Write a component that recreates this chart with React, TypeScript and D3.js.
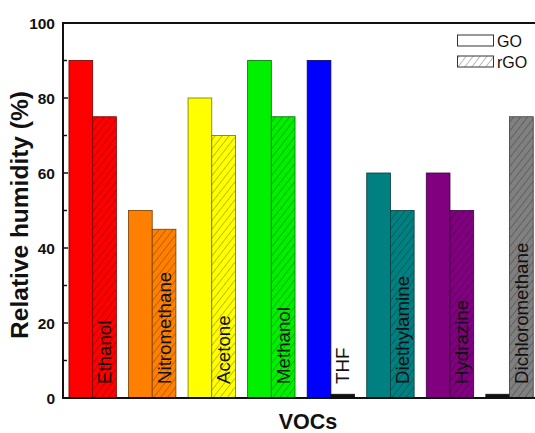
import React from "react";
import * as d3 from "d3";

// Categories (VOCs) and relative humidity values (%) for each sensing film
const vocs = [
  "Ethanol",
  "Nitromethane",
  "Acetone",
  "Methanol",
  "THF",
  "Diethylamine",
  "Hydrazine",
  "Dichloromethane",
];
const goValues = [90, 50, 80, 90, 90, 60, 60, 1];
const rgoValues = [75, 45, 70, 75, 1, 50, 50, 75];
const barColors = [
  "#ff0000",
  "#ff8000",
  "#ffff00",
  "#00f000",
  "#0000ff",
  "#008080",
  "#800080",
  "#808080",
];
const seriesNames = ["GO", "rGO"];
const yTicks = [0, 20, 40, 60, 80, 100];
const yMinorTicks = [10, 30, 50, 70, 90];

const W = 535;
const H = 433;
const left = 63;
const top = 23;
const bottom = 398;
const right = 539.2;
const FONT = "'Liberation Sans', Arial, Helvetica, sans-serif";

export default function App() {
  const x0 = d3
    .scaleBand<string>()
    .domain(vocs)
    .range([left, right])
    .paddingInner(0.204)
    .paddingOuter(0.1);
  const x1 = d3
    .scaleBand<string>()
    .domain(seriesNames)
    .range([0, x0.bandwidth()])
    .padding(0);
  const y = d3.scaleLinear().domain([0, 100]).range([bottom, top]);

  const rows = vocs.map((name, i) => ({
    name,
    color: barColors[i],
    values: [goValues[i], rgoValues[i]],
  }));

  const dark = (c: string, k: number) => d3.color(c)!.darker(k).formatHex();

  return (
    <svg
      width={W}
      height={H}
      style={{ position: "absolute", left: 0, top: 0, background: "#fff" }}
    >
      <defs>
        {rows.map((r, i) => (
          <pattern
            key={i}
            id={`hatch-${i}`}
            patternUnits="userSpaceOnUse"
            width={5.5}
            height={5.5}
            patternTransform="rotate(38)"
          >
            <rect width={5.5} height={5.5} fill={r.color} />
            <line x1={0} y1={0} x2={0} y2={5.5} stroke={dark(r.color, 1.6)} strokeWidth={1.1} />
          </pattern>
        ))}
        <pattern
          id="hatch-legend"
          patternUnits="userSpaceOnUse"
          width={5.5}
          height={5.5}
          patternTransform="rotate(38)"
        >
          <rect width={5.5} height={5.5} fill="#fff" />
          <line x1={0} y1={0} x2={0} y2={5.5} stroke="#777" strokeWidth={1} />
        </pattern>
      </defs>

      {/* bars */}
      {rows.map((r, i) => (
        <g key={r.name} transform={`translate(${x0(r.name)},0)`}>
          {r.values.map((v, j) => {
            const tiny = v < 2;
            return (
              <rect
                key={j}
                x={x1(seriesNames[j])}
                y={y(v)}
                width={x1.bandwidth()}
                height={y(0) - y(v)}
                fill={tiny ? "#111" : j === 0 ? r.color : `url(#hatch-${i})`}
                stroke={tiny ? "#111" : dark(r.color, 2.2)}
                strokeWidth={0.8}
              />
            );
          })}
          <text
            transform={`translate(${(x1("rGO") ?? 0) + x1.bandwidth() / 2},384) rotate(-90)`}
            dy="0.35em"
            fontFamily={FONT}
            fontSize={18.7}
            fill="#111"
          >
            {r.name}
          </text>
        </g>
      ))}

      {/* frame */}
      <line x1={left} x2={W} y1={top} y2={top} stroke="#111" strokeWidth={2} />
      <line x1={left} x2={W} y1={bottom} y2={bottom} stroke="#111" strokeWidth={2} />
      <line x1={left} x2={left} y1={top - 1} y2={bottom + 1} stroke="#111" strokeWidth={2} />

      {/* y ticks */}
      {yTicks.map((t) => (
        <g key={t}>
          <line x1={left} x2={left + 5} y1={y(t)} y2={y(t)} stroke="#111" strokeWidth={1.5} />
          <text
            x={left - 8}
            y={y(t)}
            dy="0.36em"
            textAnchor="end"
            fontFamily={FONT}
            fontWeight="bold"
            fontSize={15.5}
            fill="#111"
          >
            {t}
          </text>
        </g>
      ))}
      {yMinorTicks.map((t) => (
        <line key={t} x1={left} x2={left + 4} y1={y(t)} y2={y(t)} stroke="#111" strokeWidth={1.5} />
      ))}

      {/* axis titles */}
      <text
        transform="translate(28,215) rotate(-90)"
        textAnchor="middle"
        fontFamily={FONT}
        fontWeight="bold"
        fontSize={24.5}
        fill="#111"
      >
        Relative humidity (%)
      </text>
      <text
        x={308}
        y={429}
        textAnchor="middle"
        fontFamily={FONT}
        fontWeight="bold"
        fontSize={21.5}
        fill="#111"
      >
        VOCs
      </text>

      {/* legend */}
      <rect x={457.5} y={35} width={36} height={11} fill="#fff" stroke="#333" strokeWidth={1} />
      <text x={497} y={46.5} fontFamily={FONT} fontSize={16} fill="#111">
        GO
      </text>
      <rect x={457.5} y={56} width={36} height={11} fill="url(#hatch-legend)" stroke="#333" strokeWidth={1} />
      <text x={497} y={67.5} fontFamily={FONT} fontSize={16} fill="#111">
        rGO
      </text>
    </svg>
  );
}
